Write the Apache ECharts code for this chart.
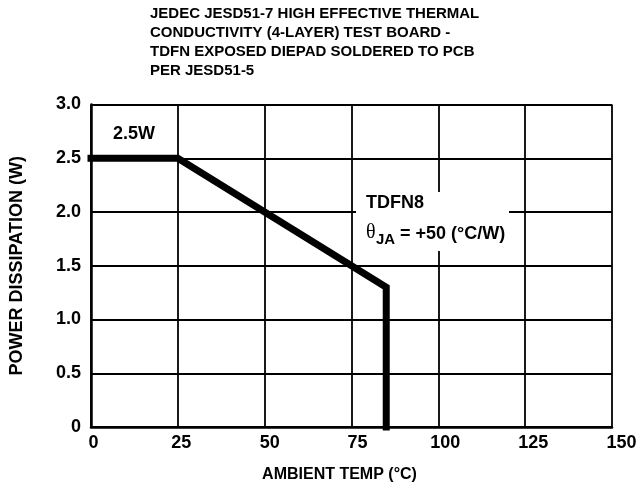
<!DOCTYPE html>
<html>
<head>
<meta charset="utf-8">
<script src="https://cdn.jsdelivr.net/npm/echarts@6/dist/echarts.min.js"></script>
<style>
  html, body { margin: 0; padding: 0; background: #fff; }
  #main { width: 637px; height: 491px; }
</style>
</head>
<body>
<div id="main"></div>
<script>
    // derating curve
    const temps = [0, 25, 85, 85];
    const power = [2.5, 2.5, 1.3, 0];

    const xTicks = [0, 25, 50, 75, 100, 125, 150];
    const yTicks = [0, 0.5, 1.0, 1.5, 2.0, 2.5, 3.0];

    const titleLines = [
        'JEDEC JESD51-7 HIGH EFFECTIVE THERMAL',
        'CONDUCTIVITY (4-LAYER) TEST BOARD -',
        'TDFN EXPOSED DIEPAD SOLDERED TO PCB',
        'PER JESD51-5'
    ];

    const FONT = '"Liberation Sans", Arial, sans-serif';

    // x labels sit a little right of their ticks, more so further right
    const xRich = {};
    xTicks.forEach(v => {
        xRich['t' + v] = {
            fontFamily: FONT, fontWeight: 'bold', fontSize: 18, color: '#000',
            padding: [0, 0, 0, Math.round(2 * (2.5 + v * 0.045))]
        };
    });

    const chart = echarts.init(document.getElementById('main'));

    let option = {
        animation: false,
        backgroundColor: '#fff',
        title: {
            text: titleLines.join('\n'),
            left: 150,
            top: 4,
            padding: 0,
            textStyle: {
                fontFamily: FONT,
                fontWeight: 'bold',
                fontSize: 15,
                lineHeight: 19,
                color: '#000'
            }
        },
        grid: {
            left: 91,
            right: 25,
            top: 104.5,
            bottom: 64,
            outerBoundsMode: 'none',
            containLabel: false
        },
        xAxis: {
            type: 'value',
            min: xTicks[0],
            max: xTicks[xTicks.length - 1],
            interval: 25,
            name: 'AMBIENT TEMP (°C)',
            nameLocation: 'middle',
            nameGap: 40,
            nameTextStyle: {
                fontFamily: FONT, fontWeight: 'bold', fontSize: 16, color: '#000',
                padding: [0, 24, 0, 0]
            },
            axisLine: { lineStyle: { color: '#000', width: 2.5 } },
            axisTick: { show: false },
            axisLabel: {
                margin: 7,
                formatter: v => '{t' + v + '|' + v + '}',
                rich: xRich
            },
            splitLine: { show: true, lineStyle: { color: '#000', width: 1.8 } }
        },
        yAxis: {
            type: 'value',
            min: yTicks[0],
            max: yTicks[yTicks.length - 1],
            interval: 0.5,
            name: 'POWER DISSIPATION (W)',
            nameLocation: 'middle',
            nameGap: 65,
            nameTextStyle: { fontFamily: FONT, fontWeight: 'bold', fontSize: 18, color: '#000' },
            axisLine: { show: true, lineStyle: { color: '#000', width: 2.5 } },
            axisTick: { show: false },
            axisLabel: {
                fontFamily: FONT, fontWeight: 'bold', fontSize: 18, color: '#000', margin: 10,
                formatter: v => v === 0 ? '0' : v.toFixed(1)
            },
            splitLine: { show: true, lineStyle: { color: '#000', width: 1.8 } }
        },
        series: [{
            type: 'line',
            data: temps.map((t, i) => [t, power[i]]),
            showSymbol: false,
            clip: false,
            z: 5,
            lineStyle: { color: '#000', width: 7, cap: 'square', join: 'miter' }
        }],
        graphic: [
            {
                type: 'text', x: 113, y: 134, z: 10,
                style: { text: '2.5W', fontFamily: FONT, fontWeight: 'bold', fontSize: 18, fill: '#000', verticalAlign: 'middle' }
            },
            {
                type: 'rect', shape: { x: 356, y: 192, width: 153, height: 59 }, z: 10,
                style: { fill: '#fff' }
            },
            {
                type: 'text', x: 366, y: 203, z: 11,
                style: { text: 'TDFN8', fontFamily: FONT, fontWeight: 'bold', fontSize: 18, fill: '#000', verticalAlign: 'middle' }
            },
            {
                type: 'text', x: 366, y: 233, z: 11,
                style: { text: 'θ', fontFamily: '"Liberation Serif", serif', fontSize: 20, fill: '#000', verticalAlign: 'middle' }
            },
            {
                type: 'text', x: 376, y: 240, z: 11,
                style: { text: 'JA', fontFamily: FONT, fontWeight: 'bold', fontSize: 15, fill: '#000', verticalAlign: 'middle' }
            },
            {
                type: 'text', x: 400, y: 234, z: 11,
                style: { text: '= +50 (°C/W)', fontFamily: FONT, fontWeight: 'bold', fontSize: 18, fill: '#000', verticalAlign: 'middle' }
            }
        ]
    };

    chart.setOption(option);
</script>
</body>
</html>
